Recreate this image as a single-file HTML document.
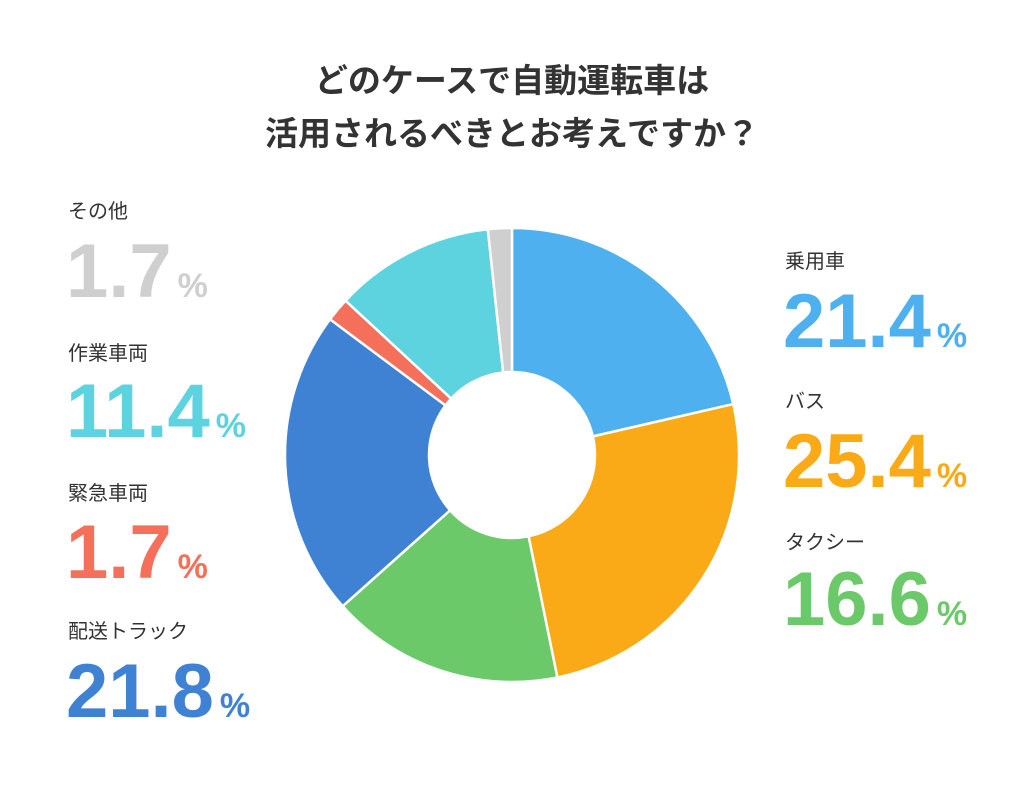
<!DOCTYPE html>
<html><head><meta charset="utf-8"><style>
html,body{margin:0;padding:0;background:#fff;}
svg{display:block;}
text{font-family:"Liberation Sans","Noto Sans CJK JP",sans-serif;}
.t{font-size:33px;font-weight:bold;fill:#333;}
.l{font-size:20px;fill:#333;}
.n{font-size:76px;font-weight:bold;letter-spacing:0px;}
.p{font-size:34px;font-weight:bold;}
</style></head><body>
<svg id="s" width="1024" height="788" viewBox="0 0 1024 788" xmlns="http://www.w3.org/2000/svg">
<text class="t" x="512" y="92" text-anchor="middle">どのケースで自動運転車は</text>
<text class="t" x="512" y="145" text-anchor="middle">活用されるべきとお考えですか？</text>
<g id="d"></g>
<text class="l" x="68" y="218">その他</text>
<text class="n" x="66" y="297" fill="#cfcfcf">1.7<tspan class="p" dx="6">%</tspan></text>
<text class="l" x="68" y="360">作業車両</text>
<text class="n" x="66" y="437" fill="#5dd3e0">11.4<tspan class="p" dx="6">%</tspan></text>
<text class="l" x="68" y="500">緊急車両</text>
<text class="n" x="66" y="578" fill="#f4705a">1.7<tspan class="p" dx="6">%</tspan></text>
<text class="l" x="68" y="638">配送トラック</text>
<text class="n" x="66" y="717" fill="#3f82d4">21.8<tspan class="p" dx="6">%</tspan></text>
<text class="l" x="785" y="268">乗用車</text>
<text class="n" x="783" y="347" fill="#4fb0f0">21.4<tspan class="p" dx="6">%</tspan></text>
<text class="l" x="785" y="408">バス</text>
<text class="n" x="783" y="487" fill="#fbaa17">25.4<tspan class="p" dx="6">%</tspan></text>
<text class="l" x="785" y="549">タクシー</text>
<text class="n" x="783" y="625" fill="#6bc96a">16.6<tspan class="p" dx="6">%</tspan></text>
</svg>
<script>
(function(){
var data=[[21.4,"#4fb0f0"],[25.4,"#fbaa17"],[16.6,"#6bc96a"],[21.8,"#3f82d4"],[1.7,"#f4705a"],[11.4,"#5dd3e0"],[1.7,"#cfcfcf"]];
var cx=512,cy=455,R=227,r=83,a=0,h="";
function pt(rad,ang){var t=(ang-90)*Math.PI/180;return (cx+rad*Math.cos(t)).toFixed(2)+","+(cy+rad*Math.sin(t)).toFixed(2);}
data.forEach(function(d){var b=a+d[0]*3.6,lg=(b-a)>180?1:0;
h+='<path d="M'+pt(R,a)+' A'+R+','+R+' 0 '+lg+' 1 '+pt(R,b)+' L'+pt(r,b)+' A'+r+','+r+' 0 '+lg+' 0 '+pt(r,a)+' Z" fill="'+d[1]+'" stroke="#fff" stroke-width="2.5"/>';a=b;});
document.getElementById("d").innerHTML=h;
})();
</script>
</body></html>
